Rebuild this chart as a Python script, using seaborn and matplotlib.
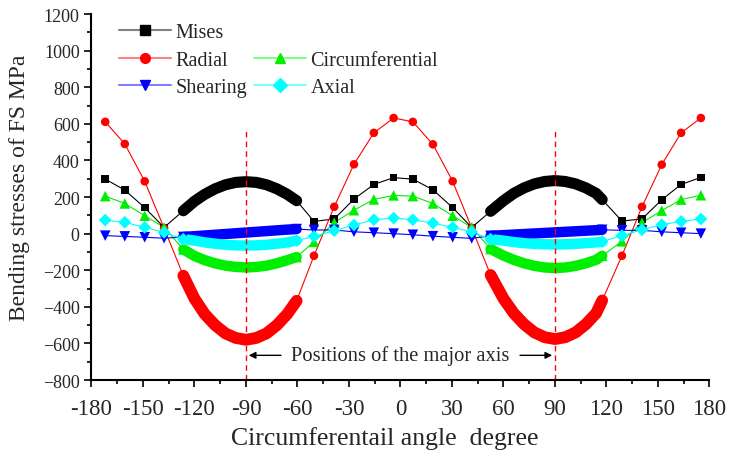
import pandas as pd
import seaborn as sns
import matplotlib.pyplot as plt
from matplotlib.lines import Line2D
from matplotlib.ticker import MultipleLocator

# angles of the sparse points (thin line + markers)
left_angle = [-172, -160.6, -149, -137.7]
mid_angle = [-50.4, -38.6, -27.1, -15.5, -4, 7.2, 18.9, 30.4, 41.5]
right_angle = [129, 140.7, 152.2, 163.5, 175]
# angles of the dense zones around the major axis
band1_angle = [-126.5, -120, -114, -108, -102, -96, -90, -84, -78, -72, -66, -60.5]
band2_angle = [52.5, 60, 66, 72, 78, 84, 90, 96, 102, 108, 114, 117.5]

mises_left = [298, 238, 142, 34]
mises_band1 = [125, 177, 215, 245, 267, 280, 284, 280, 267, 245, 215, 180]
mises_mid = [67, 80, 189, 269, 306, 298, 240, 142, 34]
mises_band2 = [122, 180, 220, 250, 272, 285, 290, 285, 272, 250, 220, 186]
mises_right = [69, 80, 185, 269, 307]

radial_left = [611, 490, 286, 30]
radial_band1 = [-230, -355, -440, -500, -545, -570, -580, -570, -545, -500, -440, -367]
radial_mid = [-121, 147, 379, 551, 632, 611, 488, 286, 31]
radial_band2 = [-226, -355, -435, -495, -540, -566, -576, -566, -540, -495, -435, -365]
radial_right = [-121, 147, 377, 551, 632]

circ_left = [205, 165, 98, 34]
circ_band1 = [-86, -122, -145, -162, -175, -182, -185, -182, -175, -162, -145, -128]
circ_mid = [-45, 60, 128, 187, 209, 205, 165, 98, 34]
circ_band2 = [-84, -120, -143, -162, -176, -185, -188, -185, -176, -162, -143, -121]
circ_right = [-42, 60, 126, 186, 210]

shear_left = [-11, -15, -20, -25]
shear_band1 = [-18, -14, -10, -6, -2, 2, 6, 10, 14, 18, 22, 25]
shear_mid = [20, 20, 10, 5, 0, -6, -14, -20, -26]
shear_band2 = [-12, -8, -5, -2, 1, 4, 7, 10, 13, 16, 19, 21]
shear_right = [18, 18, 10, 5, 0]

axial_left = [74, 62, 34, 7]
axial_band1 = [-30, -38, -48, -55, -61, -64, -65, -64, -61, -55, -48, -38]
axial_mid = [-15, 16, 47, 76, 85, 76, 58, 34, 10]
axial_band2 = [-30, -38, -46, -52, -56, -58, -59, -58, -56, -52, -48, -44]
axial_right = [-11, 21, 49, 67, 80]

names = ["Mises", "Radial", "Circumferential", "Shearing", "Axial"]
colors = ["#000000", "#ff0000", "#00ee00", "#0000ff", "#00ffff"]
light = ["#808080", "#ff8080", "#80ff80", "#8080ff", "#80ffff"]
markers = ["s", "o", "^", "v", "D"]
msizes = [30, 38, 58, 58, 42]
band_lw = [8, 8.5, 7.5, 7.5, 7.5]

values = {
    "Mises": [mises_left, mises_band1, mises_mid, mises_band2, mises_right],
    "Radial": [radial_left, radial_band1, radial_mid, radial_band2, radial_right],
    "Circumferential": [circ_left, circ_band1, circ_mid, circ_band2, circ_right],
    "Shearing": [shear_left, shear_band1, shear_mid, shear_band2, shear_right],
    "Axial": [axial_left, axial_band1, axial_mid, axial_band2, axial_right],
}
parts = ["left", "band1", "mid", "band2", "right"]
angles = [left_angle, band1_angle, mid_angle, band2_angle, right_angle]

rows = []
for name in names:
    for part, ang, val in zip(parts, angles, values[name]):
        for a, v in zip(ang, val):
            rows.append({"series": name, "part": part, "angle": a, "stress": v})
df = pd.DataFrame(rows)

sns.set_style("ticks")
plt.rcParams["font.family"] = ["Liberation Serif", "DejaVu Serif"]
plt.rcParams["axes.unicode_minus"] = True

fig = plt.figure(figsize=(7.29, 4.52), dpi=100)
ax = fig.add_axes([0.1255, 0.157, 0.8477, 0.8097])

for name, c, m, s, blw in zip(names, colors, markers, msizes, band_lw):
    sub = df[df.series == name]
    sns.lineplot(data=sub, x="angle", y="stress", sort=False, estimator=None,
                 color=c, lw=0.8, ax=ax, legend=False)
    band = sub[sub.part.str.startswith("band")]
    sns.lineplot(data=band, x="angle", y="stress", units="part", sort=False,
                 estimator=None, color=c, lw=blw, ax=ax, legend=False,
                 solid_capstyle="round")
    pts = sub[~sub.part.str.startswith("band")]
    ends = band.groupby("part").nth([0, -1])
    sns.scatterplot(data=pd.concat([pts, ends]), x="angle", y="stress", marker=m,
                    s=s, color=c, edgecolor="none", ax=ax, legend=False, zorder=3)

# major axis positions
major_axis = [-90, 90]
dash_top = 580
for xa in major_axis:
    ax.plot([xa, xa], [-800, dash_top], color="red", ls=(0, (4, 3)), lw=1)

ax.text(0, -665, "Positions of the major axis", ha="center", va="center", fontsize=14.8)
ax.annotate("", xy=(-90, -665), xytext=(-68, -665),
            arrowprops=dict(arrowstyle="-|>", color="black", lw=1))
ax.annotate("", xy=(90, -665), xytext=(68, -665),
            arrowprops=dict(arrowstyle="-|>", color="black", lw=1))

ax.set_xlim(-180, 180)
ax.set_ylim(-800, 1200)
xt = list(range(-180, 181, 30))
ax.set_xticks(xt)
ax.set_xticklabels([str(v) for v in xt], fontsize=16.5)
ax.xaxis.set_minor_locator(MultipleLocator(15))
ax.yaxis.set_major_locator(MultipleLocator(200))
ax.yaxis.set_minor_locator(MultipleLocator(100))
ax.tick_params(axis="y", labelsize=13)
ax.tick_params(axis="x", pad=8)
ax.tick_params(which="major", length=5, width=1.2, direction="out", color="black")
ax.tick_params(which="minor", length=3, width=1.2, direction="out", color="black")
for sp in ["top", "right"]:
    ax.spines[sp].set_visible(False)
for sp in ["left", "bottom"]:
    ax.spines[sp].set_linewidth(1.5)
    ax.spines[sp].set_color("black")

ax.set_xlabel("Circumferentail angle  degree", fontsize=18.5)
ax.set_ylabel("Bending stresses of FS MPa", fontsize=17)
ax.xaxis.set_label_coords(0.475, -0.125)
ax.yaxis.set_label_coords(-0.1, 0.527)

handles = []
for name, lc, c, m in zip(names, light, colors, markers):
    handles.append(Line2D([], [], color=lc, lw=1.5, marker=m, markersize=7,
                          markerfacecolor=c, markeredgecolor=c, label=name))
blank = Line2D([], [], ls="none", label=" ")
order = [handles[0], handles[1], handles[3], blank, handles[2], handles[4]]
ax.legend(handles=order, loc="upper left", bbox_to_anchor=(0.015, 1.025), ncol=2,
          frameon=False, fontsize=14.5, handlelength=2.6, numpoints=1,
          labelspacing=0.42, columnspacing=0.35, handletextpad=0.2)

fig.savefig("out.png", dpi=100)
